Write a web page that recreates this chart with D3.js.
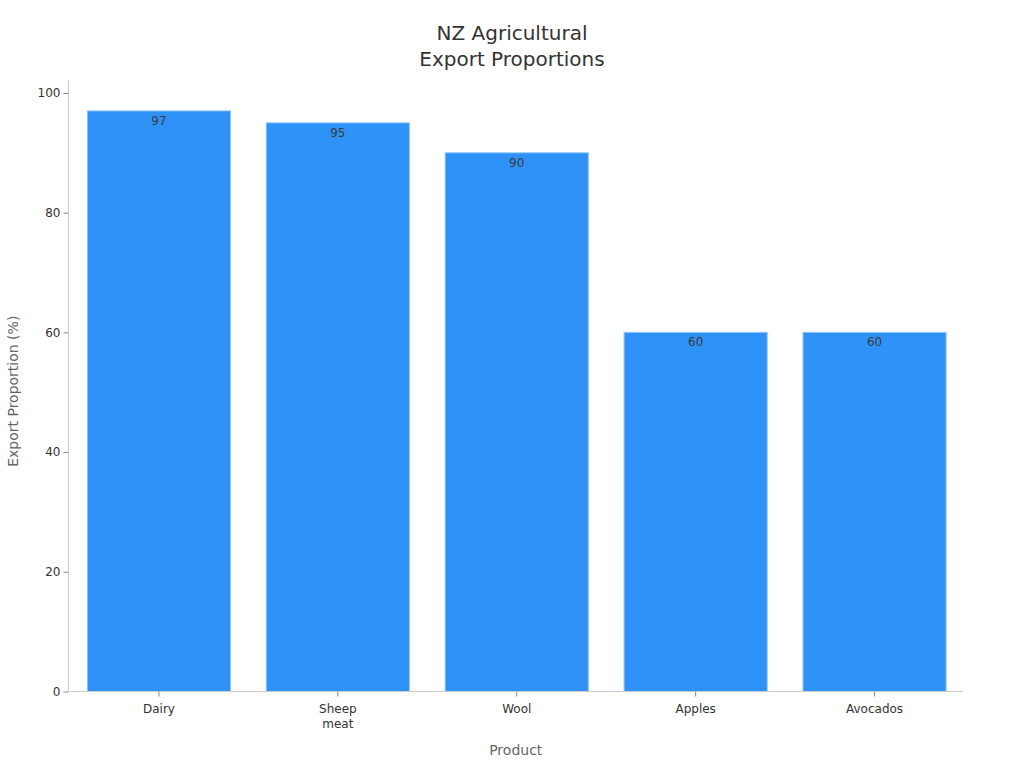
<!DOCTYPE html>
<html>
<head>
<meta charset="utf-8">
<script src="https://cdn.jsdelivr.net/npm/d3@7"></script>
<style>
body { margin: 0; background: #fff; font-family: "DejaVu Sans", sans-serif; }
</style>
</head>
<body>
<svg width="1024" height="768"></svg>
<script>
var categories = ["Dairy", "Sheep meat", "Wool", "Apples", "Avocados"];
var values = [97, 95, 90, 60, 60];
var yTicks = [0, 20, 40, 60, 80, 100];

var svg = d3.select("svg"),
width = +svg.attr("width"),
height = +svg.attr("height");

var margin = {top: 81, right: 61, bottom: 76.5, left: 68.5};

var x = d3.scaleBand().
domain(categories).
range([margin.left + 1, width - margin.right + 1]).
paddingInner(0.2).
paddingOuter(0.1);

var y = d3.scaleLinear().
domain([0, 102]).
range([height - margin.bottom, margin.top]);

// title
svg.append("text").
attr("x", 512).attr("y", 40).
attr("text-anchor", "middle").
style("font-size", "20px").
style("fill", "#333").
selectAll("tspan").
data(["NZ Agricultural", "Export Proportions"]).
enter().append("tspan").
attr("x", 512).
attr("dy", function (d, i) {return i ? 26 : 0;}).
text(function (d) {return d;});

// bars
svg.selectAll("rect.bar").
data(values).
enter().append("rect").
attr("class", "bar").
attr("x", function (d, i) {return x(categories[i]);}).
attr("width", x.bandwidth()).
attr("y", function (d) {return y(d);}).
attr("height", function (d) {return y(0) - y(d);}).
attr("fill", "#2f92f8").
attr("stroke", "#8cc3fb").
attr("stroke-width", 1);

svg.selectAll("text.val").
data(values).
enter().append("text").
attr("class", "val").
attr("x", function (d, i) {return x(categories[i]) + x.bandwidth() / 2;}).
attr("y", function (d) {return y(d) + 14;}).
attr("text-anchor", "middle").
style("font-size", "12px").
style("fill", "#3a3a3a").
text(function (d) {return d;});

// y axis
var yAxis = svg.append("g").
attr("transform", "translate(" + margin.left + ",0)").
call(d3.axisLeft(y).tickValues(yTicks).tickSize(5).tickPadding(3));
yAxis.select(".domain").attr("stroke", "#ccc").attr("d", "M0," + y(0) + "V" + (margin.top - 1));
yAxis.selectAll(".tick line").attr("stroke", "#888");
yAxis.selectAll(".tick text").style("font-size", "12px").style("fill", "#333").style("font-family", "DejaVu Sans");

// x axis
var xAxis = svg.append("g").
attr("transform", "translate(0," + y(0) + ")").
call(d3.axisBottom(x).tickSize(5).tickPadding(7.5));
xAxis.select(".domain").attr("stroke", "#ccc").attr("d", "M" + margin.left + ",0H" + (width - margin.right));
xAxis.selectAll(".tick line").attr("stroke", "#888");
xAxis.selectAll(".tick text").
style("font-size", "12px").style("fill", "#333").style("font-family", "DejaVu Sans").
each(function (d) {
  var t = d3.select(this), words = d.split(" ");
  if (words.length > 1) {
    t.text(null);
    words.forEach(function (w, i) {
      t.append("tspan").attr("x", 0).attr("dy", i ? "1.25em" : "0.71em").text(w);
    });
    t.attr("dy", null);
  }
});

// axis titles
svg.append("text").
attr("x", (margin.left + width - margin.right) / 2).
attr("y", 755).
attr("text-anchor", "middle").
style("font-size", "14px").
style("fill", "#666").
text("Product");

svg.append("text").
attr("transform", "translate(18," + ((margin.top + y(0)) / 2 + 5) + ") rotate(-90)").
attr("text-anchor", "middle").
style("font-size", "14px").
style("fill", "#666").
text("Export Proportion (%)");
</script>
</body>
</html>
